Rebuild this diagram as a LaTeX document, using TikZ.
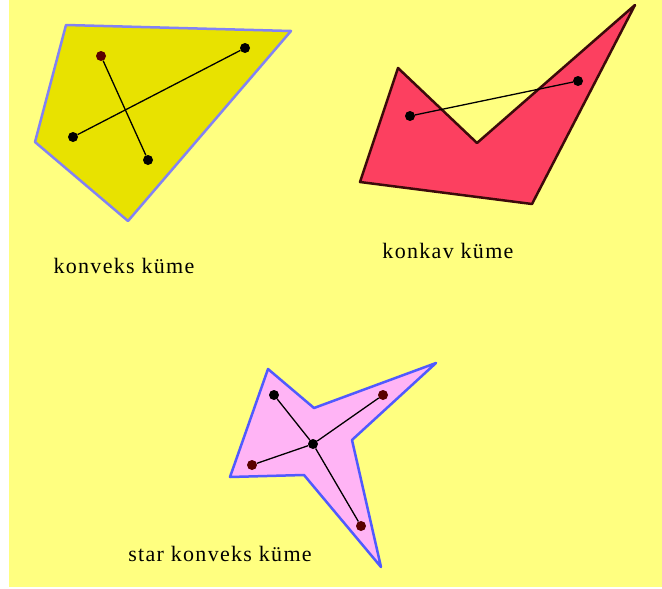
\documentclass[tikz,border=0pt]{standalone}
\usepackage{fontspec}
\setmainfont{Liberation Serif}
\definecolor{bgyellow}{RGB}{255,255,128}
\definecolor{convfill}{RGB}{232,226,0}
\definecolor{convedge}{RGB}{130,130,245}
\definecolor{concfill}{RGB}{252,64,96}
\definecolor{concedge}{RGB}{60,10,10}
\definecolor{starfill}{RGB}{255,180,245}
\definecolor{staredge}{RGB}{80,90,255}
\definecolor{darkdot}{RGB}{90,0,0}
\tikzset{
  dotpt/.style={circle,fill=black,inner sep=0pt,minimum size=10pt},
  reddot/.style={circle,fill=darkdot,inner sep=0pt,minimum size=10pt},
  seg/.style={draw=black,line width=1.3pt},
  lbl/.style={font=\fontsize{22}{25}\selectfont\addfontfeatures{LetterSpace=6},inner sep=0pt}
}
\begin{document}
\begin{tikzpicture}[x=1pt,y=-1pt]
\useasboundingbox (0,0) rectangle (662,589);
\fill[white] (0,0) rectangle (662,589);
\fill[bgyellow] (9,0) rectangle (662,587);
% convex
\filldraw[fill=convfill,draw=convedge,line width=2.5pt,line join=round]
  (66,25) -- (291,31) -- (128,221) -- (35,142) -- cycle;
\node[reddot] (c1) at (101,56) {};
\node[dotpt] (c2) at (148,160) {};
\node[dotpt] (c3) at (73,137) {};
\node[dotpt] (c4) at (245,48) {};
\draw[seg] (c1) -- (c2);
\draw[seg] (c3) -- (c4);
\node[lbl] (l1) at (124,266) {konveks küme};
% concave
\filldraw[fill=concfill,draw=concedge,line width=2.5pt,line join=round]
  (398,68) -- (477,143) -- (485,136) -- (635,5) -- (532,204) -- (360,182) -- cycle;
\node[dotpt] (k1) at (410,116) {};
\node[dotpt] (k2) at (578,81) {};
\draw[seg] (k1) -- (k2);
\node[lbl] (l2) at (448,251) {konkav küme};
% star
\filldraw[fill=starfill,draw=staredge,line width=2.5pt,line join=round]
  (268,369) -- (314,408) -- (436,363) -- (352,440) -- (381,567) -- (304,475) -- (230,477) -- cycle;
\node[dotpt] (s0) at (313,444) {};
\node[dotpt] (s1) at (274,395) {};
\node[reddot] (s2) at (383,395) {};
\node[reddot] (s3) at (252,465) {};
\node[reddot] (s4) at (361,526) {};
\draw[seg] (s1) -- (s0) -- (s4);
\draw[seg] (s3) -- (s0) -- (s2);
\node[lbl] (l3) at (220,554) {star konveks küme};
\end{tikzpicture}
\end{document}
